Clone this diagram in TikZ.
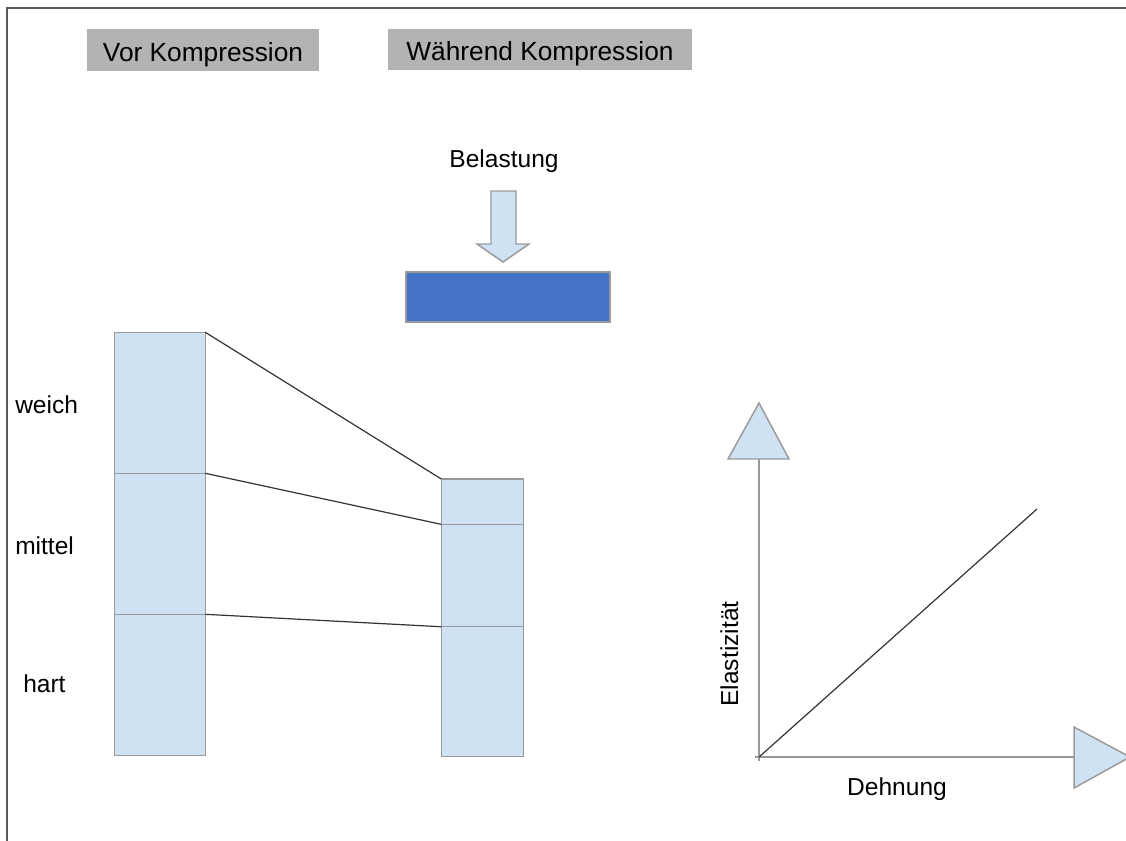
\documentclass[tikz,border=0pt]{standalone}
\usepackage{fontspec}
\setmainfont{Liberation Sans}
\usetikzlibrary{positioning}
\definecolor{layerblue}{HTML}{CFE2F3}
\definecolor{edgegray}{HTML}{999999}
\definecolor{headgray}{HTML}{B3B3B3}
\definecolor{plateblue}{HTML}{4472C4}
\definecolor{linegray}{HTML}{333333}
\definecolor{framegray}{HTML}{5A5A5A}

\tikzset{
    layer/.style={rectangle, draw=edgegray, fill=layerblue, line width=1.1pt, inner sep=0pt, outer sep=0pt, minimum width=#1},
    header/.style={rectangle, fill=headgray, inner sep=0pt, text height=22pt, text depth=5.5pt, font=\fontsize{19.7pt}{23pt}\selectfont},
    label/.style={font=\fontsize{18.4pt}{22pt}\selectfont, inner sep=0pt},
    link/.style={draw=linegray, line width=0.9pt},
    axis/.style={draw=edgegray, line width=1.5pt},
    tipshape/.style={draw=edgegray, fill=layerblue, line width=1.1pt, line join=miter}
}

\begin{document}
\begin{tikzpicture}[x=0.75pt, y=-0.75pt, node distance=0pt]
    \useasboundingbox (0,0) rectangle (1126,840);
    % Frame
    \draw[framegray, line width=1.5pt] (7,850) -- (7,8) -- (1135,8);

    % Headers
    \node [header, minimum width=174pt, minimum height=31.5pt] (vor) at (203,50) {Vor Kompression};
    \node [header, minimum width=228pt, minimum height=30.75pt] (waehrend) at (540,49.5) {Während Kompression};

    % Load and plate
    \node [label] (load) at (504,161) {Belastung};
    \draw[tipshape] (491,191) -- (516,191) -- (516,244) -- (529,244) -- (503,262) -- (477,244) -- (491,244) -- cycle;
    \node [rectangle, draw=edgegray, fill=plateblue, line width=1.1pt, minimum width=153pt, minimum height=37.7pt] (plate) at (508,297) {};

    % Column before compression
    \node [layer=68.25pt, minimum height=105.75pt, anchor=north west] (lw) at (114.3,332.3) {};
    \node [layer=68.25pt, minimum height=105.75pt, below=of lw] (lm) {};
    \node [layer=68.25pt, minimum height=105.75pt, below=of lm] (lh) {};

    % Column during compression
    \node [layer=61.8pt, minimum height=34pt, anchor=north west] (rw) at (441.3,479) {};
    \node [layer=61.8pt, minimum height=76.8pt, below=of rw] (rm) {};
    \node [layer=61.8pt, minimum height=97.5pt, below=of rm] (rh) {};

    % Links between the layers
    \draw[link] (lw.north east) -- (rw.north west);
    \draw[link] (lm.north east) -- (rm.north west);
    \draw[link] (lh.north east) -- (rh.north west);

    % Layer labels
    \node [label, anchor=base west] (weich) at (15,413) {weich};
    \node [label, anchor=base west] (mittel) at (15,554) {mittel};
    \node [label, anchor=base west] (hart) at (23,692) {hart};

    % Graph
    \coordinate (origin) at (759,757);
    \coordinate (ytip) at (759,459);
    \coordinate (xtip) at (1074,757);
    \coordinate (lineend) at (1037,509);
    \draw[axis] (759,761) -- (ytip);
    \draw[axis] (755,757) -- (xtip);
    \draw[tipshape] (759,403) -- (789,459) -- (728,459) -- cycle;
    \draw[tipshape] (1074,727) -- (1130,757) -- (1074,788) -- cycle;
    \draw[link] (origin) -- (lineend);
    \node [label, anchor=base, rotate=90] (ylabel) at (738,654) {Elastizität};
    \node [label, anchor=base] (xlabel) at (897,795) {Dehnung};
\end{tikzpicture}
\end{document}
